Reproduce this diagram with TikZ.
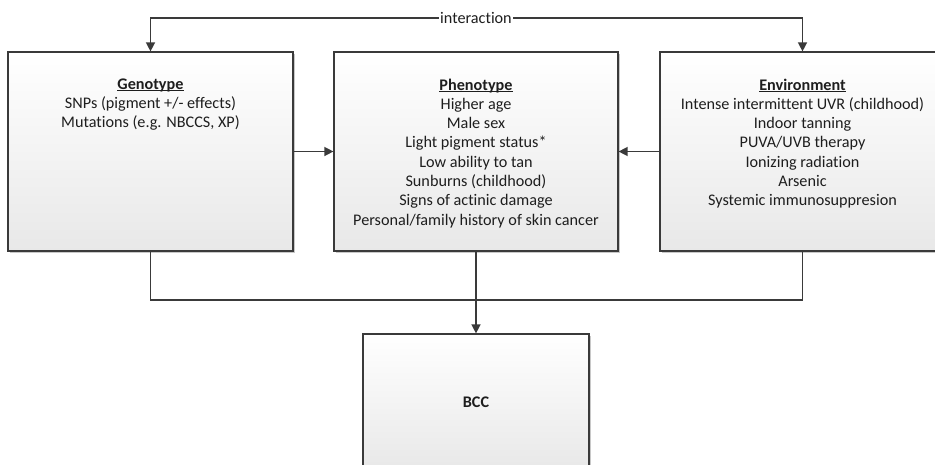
\documentclass[tikz,border=0pt]{standalone}
\usepackage{fontspec}
\setmainfont[Ligatures=NoCommon]{Carlito}
\usetikzlibrary{shadows,arrows.meta}
\definecolor{linec}{HTML}{3A3A3A}
\definecolor{txtc}{HTML}{1E1E1E}
\newsavebox{\hdbox}
\newcommand{\hd}[1]{\sbox{\hdbox}{\textbf{#1}}\rlap{\rule[-2pt]{\wd\hdbox}{0.9pt}}\usebox{\hdbox}}
\tikzset{
  box/.style={draw=linec, line width=1.2pt, top color=white, bottom color=black!9,
    inner sep=0pt, minimum height=199pt,
    drop shadow={shadow xshift=2pt, shadow yshift=-2pt, fill=black!30, opacity=0.7}},
  txt/.style={anchor=north, align=center, inner sep=0pt, text=txtc,
    font=\fontsize{16.2}{19.3}\selectfont},
  conn/.style={draw=linec, line width=1.4pt},
  arr/.style={conn, -{Triangle[length=9pt, width=9pt]}},
  lbl/.style={fill=white, inner sep=1pt, text=txtc, font=\fontsize{16.2}{18}\selectfont}
}
\begin{document}
\begin{tikzpicture}[x=1pt, y=1pt]
\clip (0,0) rectangle (935,-464);
\fill[white] (0,0) rectangle (935,-464);
% boxes
\node[box, minimum width=285pt] (geno) at (150.5,-151.5) {};
\node[box, minimum width=284pt] (pheno) at (476,-151.5) {};
\node[box, minimum width=285pt] (env) at (802.5,-151.5) {};
\node[box, minimum width=226pt, minimum height=136pt] (bcc) at (476,-402) {};
% texts
\node[txt] (genotxt) at (150.5,-78.5) {\hd{Genotype}\\SNPs (pigment +/- effects)\\Mutations (e.g. NBCCS, XP)};
\node[txt] (phenotxt) at (476,-78.5) {\hd{Phenotype}\\Higher age\\Male sex\\Light pigment status*\\Low ability to tan\\Sunburns (childhood)\\Signs of actinic damage\\Personal/family history of skin cancer};
\node[txt] (envtxt) at (802.5,-78.5) {\hd{Environment}\\Intense intermittent UVR (childhood)\\Indoor tanning\\PUVA/UVB therapy\\Ionizing radiation\\Arsenic\\Systemic immunosuppresion};
\node[txt, anchor=center] (bcctxt) at (bcc.center) {\textbf{BCC}};
% connectors
\draw[arr] (geno.east) -- (pheno.west);
\draw[arr] (env.west) -- (pheno.east);
\coordinate (top) at (476,-18);
\draw[arr] (top) -| (geno.north);
\draw[arr] (top) -| (env.north);
\node[lbl] (inter) at (top) {interaction};
\coordinate (join) at (476,-300);
\draw[conn] (geno.south) |- (join);
\draw[conn] (env.south) |- (join);
\draw[arr] (pheno.south) -- (bcc.north);
\end{tikzpicture}
\end{document}
